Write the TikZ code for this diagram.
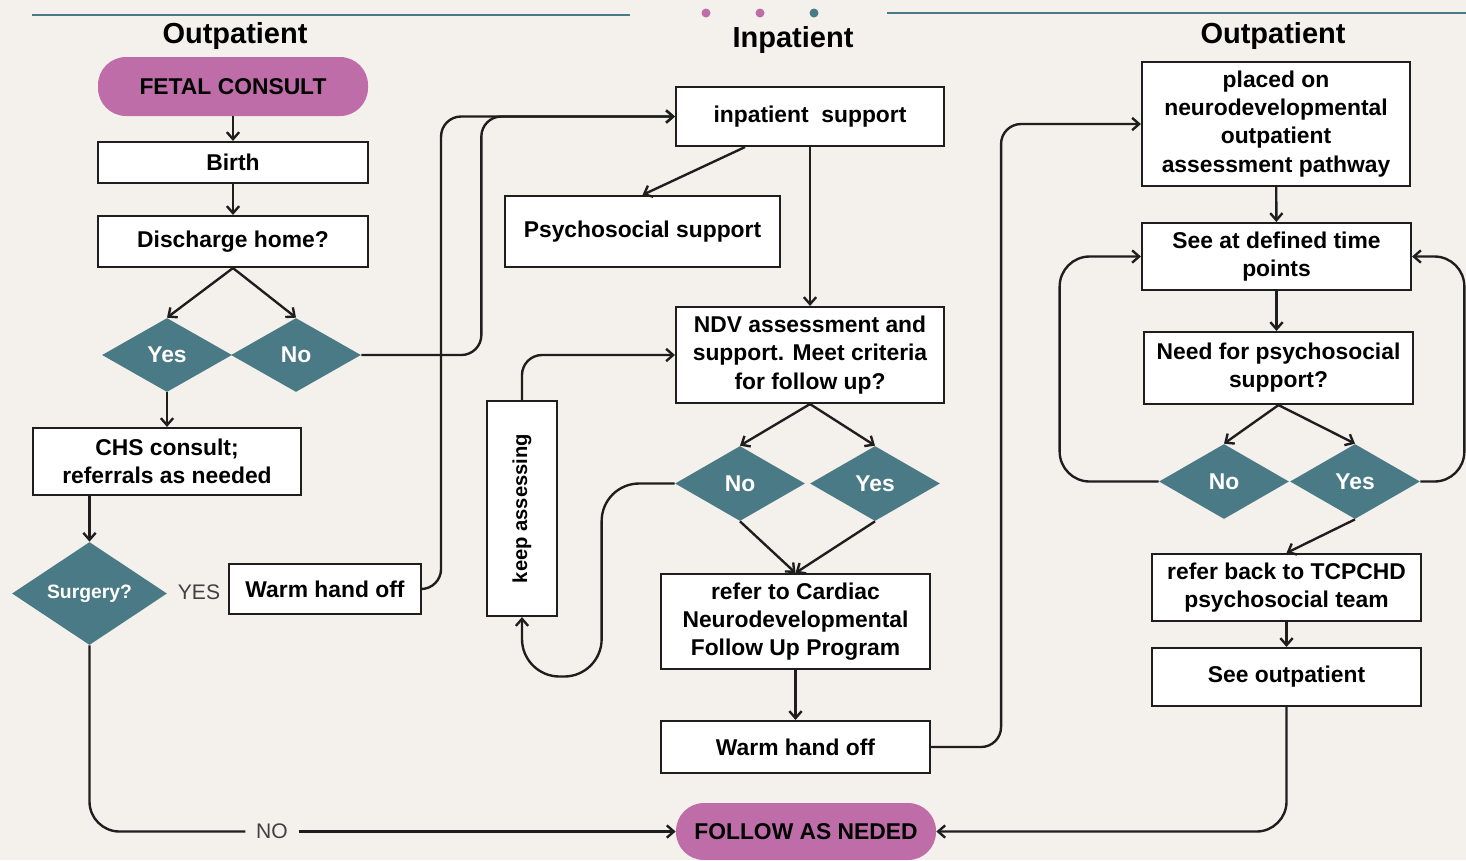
\documentclass[tikz,border=0pt]{standalone}
\usepackage{fontspec}
\setmainfont{Liberation Sans}
\usepackage{graphicx}
\usetikzlibrary{arrows.meta,shapes.geometric,calc}
\definecolor{bgc}{HTML}{F4F1EC}
\definecolor{tealc}{HTML}{4A7A85}
\definecolor{pinkc}{HTML}{BF6DA9}
\definecolor{linec}{HTML}{1E1E1E}
\begin{document}
\begin{tikzpicture}[x=0.02cm,y=-0.02cm,
 sz/.style 2 args={minimum width=#1*0.02cm, minimum height=#2*0.02cm},
 box/.style={draw=linec, fill=white, line width=1.2pt, inner sep=2pt, align=center, font=\bfseries\fontsize{13}{16}\selectfont},
 pill/.style={fill=pinkc, rounded corners=0.56cm, inner sep=0pt, font=\bfseries\fontsize{13}{16}\selectfont},
 dia/.style={diamond, fill=tealc, inner sep=0pt, text=white, font=\bfseries\fontsize{13}{16}\selectfont},
 hdr/.style={font=\bfseries\fontsize{16.5}{20}\selectfont},
 con/.style={line width=1.35pt, draw=linec},
 arr/.style={con, -{Straight Barb[length=4pt,width=7pt]}},
 lbl/.style={font=\fontsize{12}{14}\selectfont, text=black!75}
]
\fill[bgc] (0,0) rectangle (1466,860);
\useasboundingbox (0,0) rectangle (1466,860);
% top decoration
\draw[tealc, line width=1.3pt] (32,15) -- (630,15);
\draw[tealc, line width=1.3pt] (887,13) -- (1466,13);
\fill[pinkc] (706,13) circle (4.5);
\fill[pinkc] (760,13) circle (4.5);
\fill[tealc] (814,13) circle (4.5);
% headers
\node[hdr] (h1) at (235,36) {Outpatient};
\node[hdr] (h2) at (793,40) {Inpatient};
\node[hdr] (h3) at (1273,36) {Outpatient};
% left column
\node[pill, sz={270}{59}] (fetal) at (233,86.5) {FETAL CONSULT};
\node[box, sz={270}{41}] (birth) at (233,162.5) {Birth};
\node[box, sz={270}{51}] (dis) at (233,241.5) {Discharge home?};
\node[dia, sz={130}{74}] (yesL) at (167,355) {Yes};
\node[dia, sz={130}{74}] (noL) at (296,355) {No};
\node[box, sz={268}{67}] (chs) at (167,461.5) {CHS consult;\\referrals as needed};
\node[dia, sz={155}{103}, font=\bfseries\fontsize{11}{13}\selectfont] (surg) at (89.5,593.5) {Surgery?};
\node[lbl] (yeslbl) at (199,592) {YES};
\node[box, sz={192}{50}] (warmL) at (325,589) {Warm hand off};
% middle column
\node[box, sz={268}{59}] (inp) at (810,116.5) {inpatient\ \ support};
\node[box, sz={275}{71}] (psy) at (642.5,231.5) {Psychosocial support};
\node[box, sz={268}{96}] (ndv) at (810,355) {NDV assessment and\\support. Meet criteria\\for follow up?};
\node[dia, sz={130}{75}] (noM) at (740,483.5) {No};
\node[dia, sz={130}{75}] (yesM) at (875,483.5) {Yes};
\node[box, sz={70}{215}, font=\bfseries\fontsize{11.5}{14}\selectfont] (keep) at (522,508.5) {\rotatebox{90}{keep assessing}};
\node[box, sz={269}{95}] (ref) at (795.5,621.5) {refer to Cardiac\\Neurodevelopmental\\Follow Up Program};
\node[box, sz={269}{52}] (warmM) at (795.5,747) {Warm hand off};
\node[pill, sz={260}{57}] (follow) at (806,831.5) {FOLLOW AS NEDED};
\node[lbl, inner xsep=6pt] (nolbl) at ($(surg.south |- follow.west)+(182.5,0)$) {NO};
% right column
\node[box, sz={268}{124}] (placed) at (1276,124) {placed on\\neurodevelopmental\\outpatient\\assessment pathway};
\node[box, sz={269}{67}] (seeat) at (1276.5,256.5) {See at defined time\\points};
\node[box, sz={269}{72}] (need) at (1278.5,368) {Need for psychosocial\\support?};
\node[dia, sz={130}{75}] (noR) at (1224,481.5) {No};
\node[dia, sz={130}{75}] (yesR) at (1355,481.5) {Yes};
\node[box, sz={269}{67}] (refb) at (1286.5,587.5) {refer back to TCPCHD\\psychosocial team};
\node[box, sz={269}{58}] (seeo) at (1286.5,677) {See outpatient};
% connectors left
\draw[arr] (fetal) -- (birth);
\draw[arr] (birth) -- (dis);
\draw[arr] (dis.south) -- (yesL.north);
\draw[arr] (dis.south) -- (noL.north);
\draw[arr] (yesL) -- (chs);
\draw[arr] (chs.south -| surg.north) -- (surg.north);
\draw[arr, rounded corners=0.4cm] (warmL.east) -- ++(19,0) |- (inp.west);
\draw[arr, rounded corners=0.4cm] (noL.east) -- ++(120,0) |- (inp.west);
\draw[con, rounded corners=0.6cm] (surg.south) |- (nolbl.west);
\draw[arr] (nolbl.east) -- (follow.west);
% connectors middle
\draw[arr] ($(inp.south)+(-65,0)$) -- (psy.north);
\draw[arr] (inp) -- (ndv);
\draw[arr] (ndv.south) -- (noM.north);
\draw[arr] (ndv.south) -- (yesM.north);
\draw[arr] (noM.south) -- (ref.north);
\draw[arr] (yesM.south) -- (ref.north);
\draw[arr] (ref) -- (warmM);
\draw[arr, rounded corners=0.4cm] (warmM.east) -- ++(70,0) |- (placed.west);
\draw[arr, rounded corners=0.75cm] (noM.west) -- ++(-73,0) -- ++(0,193) -| (keep.south);
\draw[arr, rounded corners=0.4cm] (keep.north) |- (ndv.west);
% connectors right
\draw[arr] (placed) -- (seeat);
\draw[arr] (seeat.south) -- (seeat.south |- need.north);
\draw[arr] (need.south) -- (noR.north);
\draw[arr] (need.south) -- (yesR.north);
\draw[arr, rounded corners=0.6cm] (noR.west) -- ++(-99,0) |- (seeat.west);
\draw[arr, rounded corners=0.6cm] (yesR.east) -- ++(44,0) |- (seeat.east);
\draw[arr] (yesR.south) -- (refb.north);
\draw[arr] (refb) -- (seeo);
\draw[arr, rounded corners=0.6cm] (seeo.south) |- (follow.east);
\end{tikzpicture}
\end{document}
